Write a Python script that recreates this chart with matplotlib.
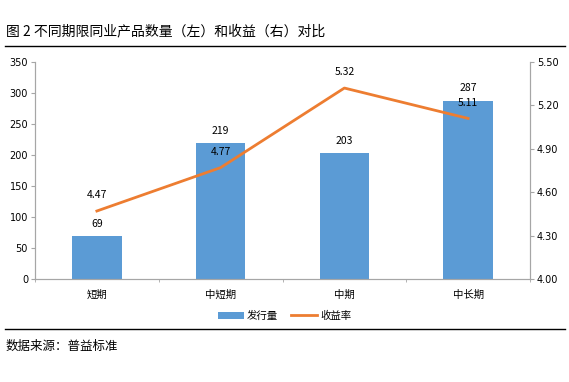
import numpy as np
import matplotlib.pyplot as plt

plt.rcParams['font.family'] = ['Noto Sans CJK SC', 'DejaVu Sans']

# data
categories = ['短期', '中短期', '中期', '中长期']
issuance = [69, 219, 203, 287]
yields = [4.47, 4.77, 5.32, 5.11]
left_ticks = [0, 50, 100, 150, 200, 250, 300, 350]
right_ticks = [4.00, 4.30, 4.60, 4.90, 5.20, 5.50]

bar_color = '#5B9BD5'
line_color = '#ED7D31'
axis_color = '#A6A6A6'

fig = plt.figure(figsize=(5.69, 3.82), dpi=100)
ax = fig.add_axes([35 / 569, 1 - 279 / 382, 495 / 569, 217 / 382])
ax2 = ax.twinx()

x = np.arange(len(categories))
bars = ax.bar(x, issuance, width=0.4, color=bar_color, label='发行量', zorder=2)
ax.set_xlim(-0.5, len(categories) - 0.5)
ax.set_ylim(0, 350)
ax.set_yticks(left_ticks)
ax.set_yticklabels([str(t) for t in left_ticks], fontsize=7, family=['DejaVu Sans'])
ax.set_xticks(x)
ax.set_xticklabels(categories, fontsize=7.5)
ax.set_xticks(np.arange(-0.5, len(categories)), minor=True)
ax.tick_params(axis='x', which='major', length=0, pad=8)
ax.tick_params(axis='x', which='minor', length=2, color=axis_color)
ax.tick_params(axis='y', length=3, color=axis_color, pad=2)

for xi, v in zip(x, issuance):
    ax.text(xi, v + 350 * 0.035, str(v), ha='center', va='bottom', fontsize=7.5)

ax2.plot(x, yields, color=line_color, linewidth=2, label='收益率', zorder=3)
ax2.set_ylim(4.0, 5.5)
ax2.set_yticks(right_ticks)
ax2.set_yticklabels(['%.2f' % t for t in right_ticks], fontsize=7, family=['DejaVu Sans'])
ax2.tick_params(axis='y', length=3, color=axis_color, pad=2)
for xi, v in zip(x, yields):
    ax2.text(xi, v + 1.5 * 0.05, '%.2f' % v, ha='center', va='bottom', fontsize=7.5)

for a in (ax, ax2):
    for s in a.spines.values():
        s.set_color(axis_color)
        s.set_linewidth(0.8)
    a.spines['top'].set_visible(False)

# legend
handles = [bars, ax2.get_lines()[0]]
fig.legend(handles, ['发行量', '收益率'], loc='center', bbox_to_anchor=(0.5, 1 - 316 / 382),
           ncol=2, frameon=False, fontsize=7.5, handlelength=2.5, columnspacing=1.2,
           handletextpad=0.3)

# title, rules and source
fig.text(6 / 569, 1 - 31 / 382, '图 2 不同期限同业产品数量（左）和收益（右）对比',
         fontsize=10, va='center', ha='left')
fig.add_artist(plt.Line2D([5 / 569, 565 / 569], [1 - 46 / 382] * 2, color='black', linewidth=1))
fig.add_artist(plt.Line2D([5 / 569, 565 / 569], [1 - 329 / 382] * 2, color='black', linewidth=1))
fig.text(6 / 569, 1 - 346 / 382, '数据来源：普益标准', fontsize=9, va='center', ha='left')

fig.savefig('out.png', dpi=100)
